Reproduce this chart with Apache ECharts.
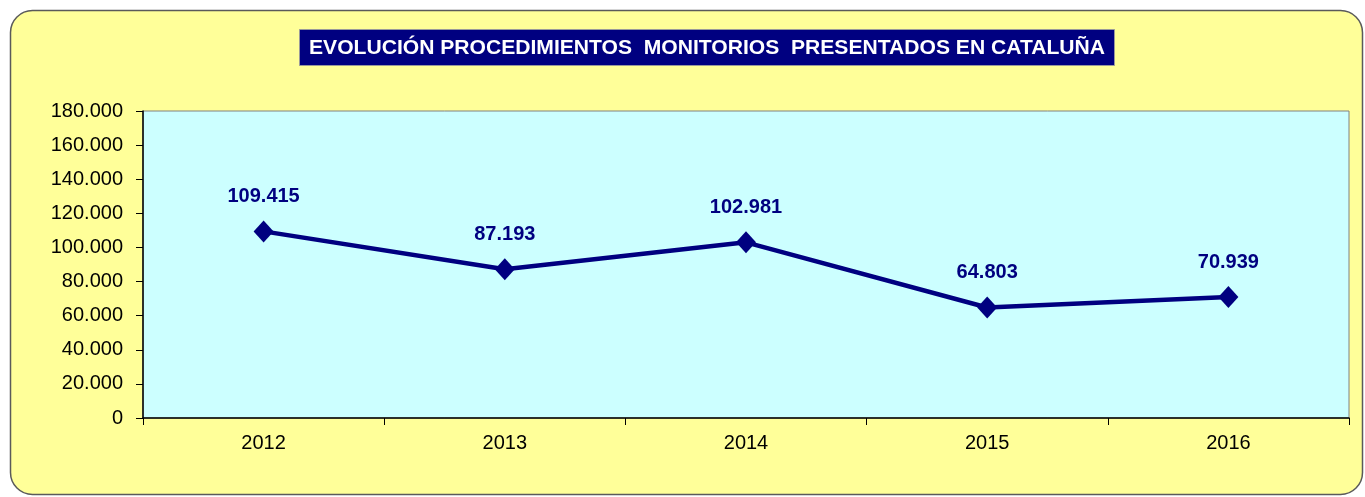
<!DOCTYPE html>
<html>
<head>
<meta charset="utf-8">
<script src="https://cdn.jsdelivr.net/npm/echarts@6/dist/echarts.min.js"></script>
<style>
  html, body { margin: 0; padding: 0; background: #ffffff; }
  #chart { width: 1365px; height: 497px; }
</style>
</head>
<body>
<div id="chart"></div>
<script>
// Procedimientos monitorios presentados en Cataluña, 2012-2016
const years = ['2012', '2013', '2014', '2015', '2016'];
const monitorios = [109415, 87193, 102981, 64803, 70939];
const yTicks = { min: 0, max: 180000, interval: 20000 };
const titleText = 'EVOLUCIÓN PROCEDIMIENTOS  MONITORIOS  PRESENTADOS EN CATALUÑA';

const FONT = '"Liberation Sans", Arial, sans-serif';
const fmt = v => String(Math.round(v)).replace(/\B(?=(\d{3})+(?!\d))/g, '.');

// squeeze the banner text horizontally so it fills its navy box
const titleFont = 'bold 20px ' + FONT;
const titleBox = { x: 299.5, y: 29.5, w: 815, h: 36 };
const titleWidth = 796;
const ctx = document.createElement('canvas').getContext('2d');
ctx.font = titleFont;
const titleScale = titleWidth / ctx.measureText(titleText).width;

const chart = echarts.init(document.getElementById('chart'), null, { renderer: 'canvas' });

chart.setOption({
  animation: false,
  backgroundColor: '#ffffff',
  graphic: [
    {
      type: 'rect',
      z: -10,
      silent: true,
      shape: { x: 10.5, y: 10.5, width: 1352, height: 484, r: 22 },
      style: { fill: '#ffff99', stroke: '#5a5a5a', lineWidth: 1.5 }
    },
    {
      type: 'rect',
      z: 5,
      silent: true,
      shape: { x: titleBox.x, y: titleBox.y, width: titleBox.w, height: titleBox.h },
      style: { fill: '#000080', stroke: '#9a9a9a', lineWidth: 1 }
    },
    {
      type: 'text',
      z: 6,
      silent: true,
      x: titleBox.x + titleBox.w / 2,
      y: titleBox.y + titleBox.h / 2 + 1,
      scaleX: titleScale,
      style: {
        text: titleText,
        fill: '#ffffff',
        fontSize: 20,
        fontWeight: 'bold',
        fontFamily: FONT,
        align: 'center',
        verticalAlign: 'middle'
      }
    }
  ],
  grid: {
    left: 143, right: 16, top: 111, bottom: 79,
    show: true,
    backgroundColor: '#ccffff',
    borderColor: '#808080',
    borderWidth: 1
  },
  xAxis: {
    type: 'category',
    data: years,
    boundaryGap: true,
    axisLine: { lineStyle: { color: '#000000', width: 1.5 } },
    axisTick: { show: true, alignWithLabel: false, length: 7, lineStyle: { color: '#000000' } },
    axisLabel: { color: '#000000', fontSize: 20, fontFamily: FONT, margin: 15 },
    splitLine: { show: false }
  },
  yAxis: {
    type: 'value',
    min: yTicks.min,
    max: yTicks.max,
    interval: yTicks.interval,
    axisLine: { show: true, lineStyle: { color: '#000000', width: 1.5 } },
    axisTick: { show: true, length: 7, lineStyle: { color: '#000000' } },
    axisLabel: { color: '#000000', fontSize: 20, fontFamily: FONT, margin: 20, formatter: fmt },
    splitLine: { show: false }
  },
  series: [{
    type: 'line',
    data: monitorios,
    symbol: 'diamond',
    symbolSize: [20, 22],
    lineStyle: { color: '#000080', width: 4.5 },
    itemStyle: { color: '#000080' },
    label: {
      show: true,
      position: 'top',
      distance: 14,
      color: '#000080',
      fontSize: 20,
      fontWeight: 'bold',
      fontFamily: FONT,
      formatter: p => fmt(p.value)
    }
  }]
});
</script>
</body>
</html>
